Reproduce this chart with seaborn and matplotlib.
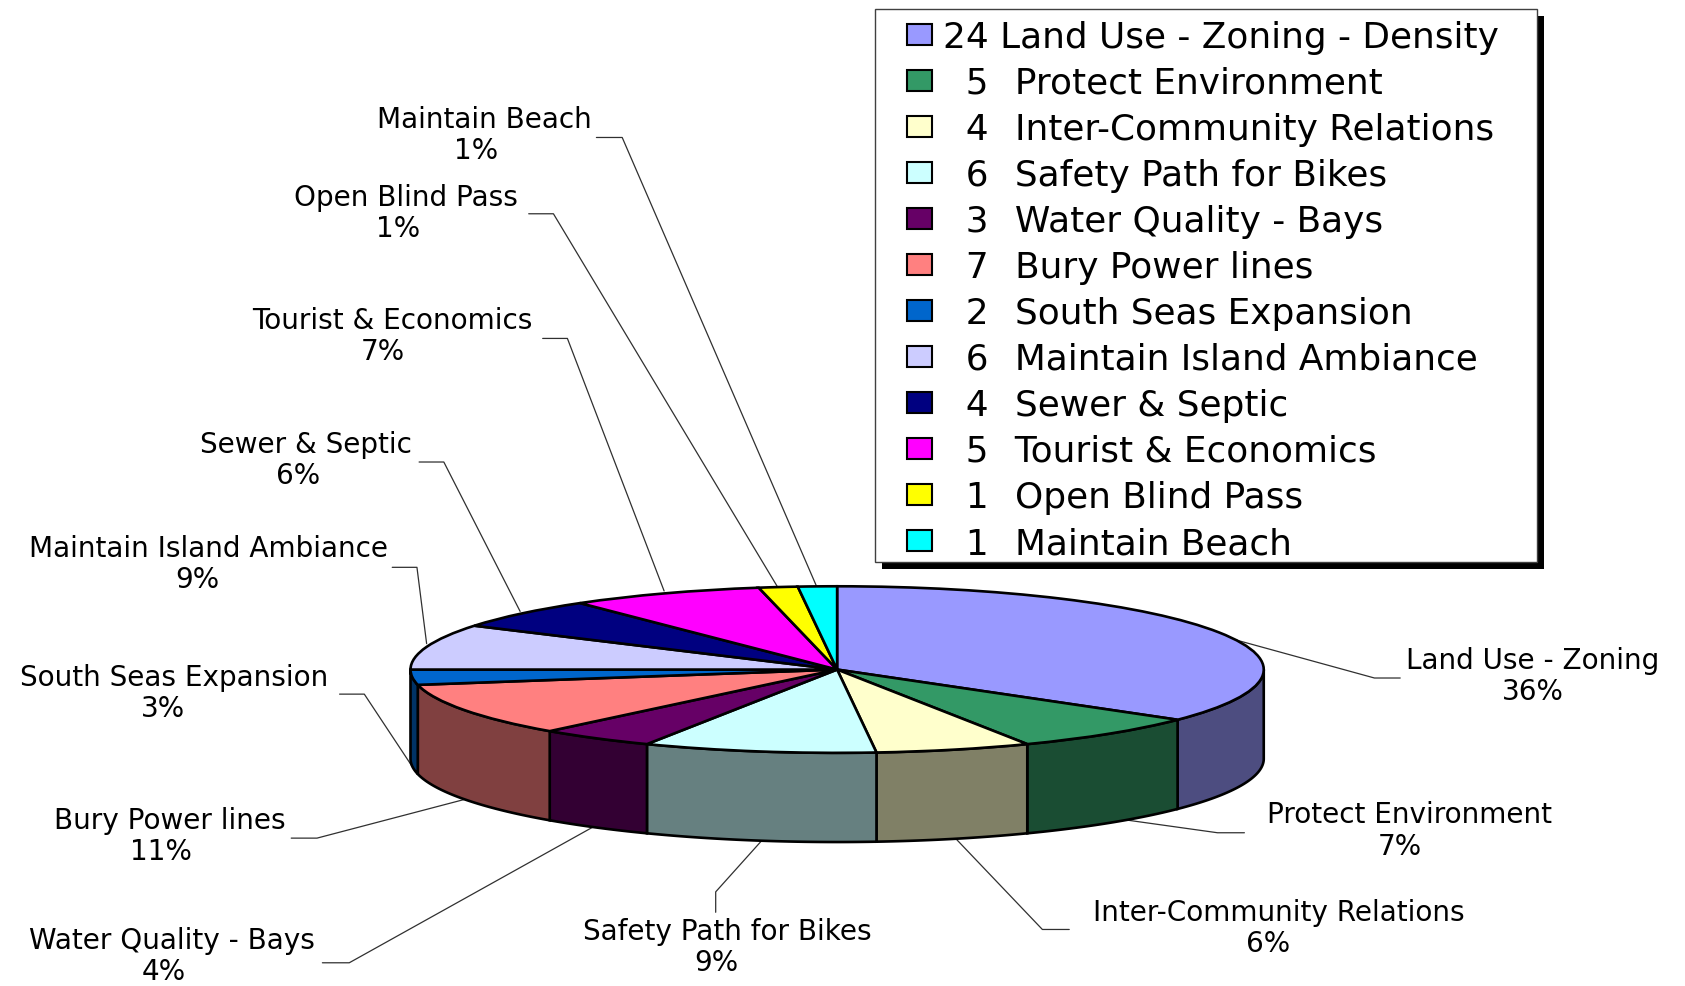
import numpy as np
import seaborn as sns
import matplotlib.pyplot as plt
from matplotlib.patches import Patch, Rectangle

sns.set_theme(style="white")
plt.rcParams['font.family'] = ['DejaVu Sans']

# Data
counts = [24, 5, 4, 6, 3, 7, 2, 6, 4, 5, 1, 1]
legend_names = ['Land Use - Zoning - Density', 'Protect Environment', 'Inter-Community Relations',
                'Safety Path for Bikes', 'Water Quality - Bays', 'Bury Power lines',
                'South Seas Expansion', 'Maintain Island Ambiance', 'Sewer & Septic',
                'Tourist & Economics', 'Open Blind Pass', 'Maintain Beach']
label_names = ['Land Use - Zoning', 'Protect Environment', 'Inter-Community Relations',
               'Safety Path for Bikes', 'Water Quality - Bays', 'Bury Power lines',
               'South Seas Expansion', 'Maintain Island Ambiance', 'Sewer & Septic',
               'Tourist & Economics', 'Open Blind Pass', 'Maintain Beach']
percents = [36, 7, 6, 9, 4, 11, 3, 9, 6, 7, 1, 1]
colors = ['#9999ff', '#339966', '#ffffcc', '#ccffff', '#660066', '#ff8080',
          '#0066cc', '#ccccff', '#000080', '#ff00ff', '#ffff00', '#00ffff']

# Layout, measured on the 1568 wide view
S = 1685 / 1568
name_pos = [(1426, 613), (1312, 757), (1190, 848), (677, 865), (160, 874), (158, 762),
            (162, 629), (194, 509), (285, 412), (365, 297), (378, 182), (451, 110)]
pct_pos = [(1426, 642), (1303, 786), (1180, 877), (667, 894), (152, 903), (150, 791),
           (152, 658), (184, 538), (277, 441), (356, 326), (370, 211), (443, 139)]
leaders = [[(1303, 630), (1279, 630), (1148, 594)], [(1158, 774), (1133, 774), (1040, 761)],
           [(995, 864), (970, 864), (888, 778)], [(666, 848), (666, 829), (710, 780)],
           [(300, 895), (325, 895), (553, 768)], [(271, 779), (295, 779), (436, 742)],
           [(316, 645), (339, 645), (386, 716)], [(365, 527), (388, 527), (397, 598)],
           [(390, 429), (413, 429), (484, 568)], [(505, 314), (528, 314), (618, 549)],
           [(492, 198), (515, 198), (724, 546)], [(555, 127), (579, 127), (760, 545)]]
box = (814, 9, 1430, 524)

W, H = 1685, 987
cx, cy = 779 * S, 624 * S
rx, ry = 397 * S, 77.5 * S
depth = 83 * S / ry

fig = plt.figure(figsize=(W / 100, H / 100), dpi=100)

# Overlay in pixel coordinates for the leaders and text
ax2 = fig.add_axes([0, 0, 1, 1])
ax2.set_xlim(0, W)
ax2.set_ylim(H, 0)
ax2.axis('off')

for pts in leaders:
    xs = [p[0] * S for p in pts]
    ys = [p[1] * S + 2 for p in pts]
    ax2.plot(xs, ys, color='#303030', lw=0.9)

for name, pct, np_, pp in zip(label_names, percents, name_pos, pct_pos):
    ax2.text(np_[0] * S, np_[1] * S + 2, name, fontsize=20.1, color='black', ha='center', va='center')
    ax2.text(pp[0] * S, pp[1] * S + 2, f'{pct}%', fontsize=20.1, color='black', ha='center', va='center')

# Pie: the axes are squashed so that the circle turns into an ellipse
ax = fig.add_axes([0, 0, 1, 1], zorder=2)
ax.patch.set_alpha(0)
palette = sns.color_palette(colors)
wedges, _ = ax.pie(counts, colors=palette, startangle=90, counterclock=False,
                   wedgeprops=dict(edgecolor='black', linewidth=1.9))
ax.set_aspect('auto')
ax.set_xlim(-cx / rx, (W - cx) / rx)
ax.set_ylim(-(H - cy) / ry, cy / ry)
ax.axis('off')

# Side wall, only where the rim faces the viewer
edges = 90 - 360 * np.cumsum([0] + counts) / sum(counts)
for a1, a2, col in zip(edges[:-1], edges[1:], palette):
    hi, lo = min(a1, 0), max(a2, -180)
    if hi <= lo:
        continue
    t = np.radians(np.linspace(hi, lo, 60))
    xs = np.cos(t)
    ys = np.sin(t)
    ax.fill(np.r_[xs, xs[::-1]], np.r_[ys, ys[::-1] - depth],
            facecolor=tuple(c / 2 for c in col), edgecolor='black', linewidth=1.9, zorder=0.5)

# Legend frame and hard shadow
bx0, by0, bx1, by1 = [v * S for v in box]
ax2.add_patch(Rectangle((bx0 + 7, by0 + 7), bx1 - bx0, by1 - by0, facecolor='black',
                        edgecolor='none', zorder=4))
ax2.add_patch(Rectangle((bx0, by0), bx1 - bx0, by1 - by0, facecolor='white',
                        edgecolor='#404040', linewidth=1.0, zorder=4.5))

handles = [Patch(facecolor=c, edgecolor='black', linewidth=1.5) for c in colors]
labels = [f'{n} {name}' if n > 9 else f'  {n}  \u200a{name}' for n, name in zip(counts, legend_names)]
leg = ax2.legend(handles, labels, loc='upper left', bbox_to_anchor=(844 * S / W, 1 - 19.5 * S / H),
                 bbox_transform=fig.transFigure, fontsize=25.8, frameon=False, borderaxespad=0,
                 labelspacing=0.335, handlelength=0.70, handleheight=0.52, handletextpad=0.3,
                 borderpad=0, labelcolor='black')
leg.set_zorder(5)

fig.savefig('out.png', dpi=100, facecolor='white')
